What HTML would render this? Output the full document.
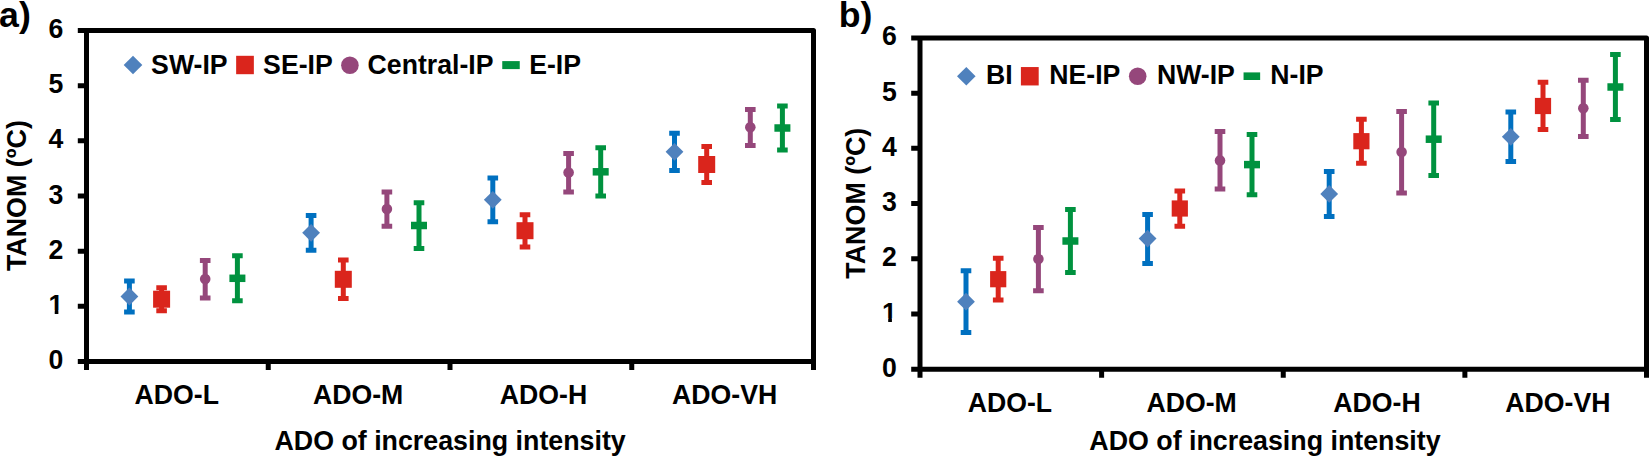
<!DOCTYPE html>
<html lang="en"><head><meta charset="utf-8"><title>TANOM vs ADO intensity</title>
<style>
html,body{margin:0;padding:0;background:#fff}
body{width:1649px;height:456px;overflow:hidden}
svg{display:block}
text{font-family:"Liberation Sans",Arial,Helvetica,sans-serif;font-weight:700;fill:#000}
</style></head><body>
<svg width="1649" height="456" viewBox="0 0 1649 456">
<defs>
<clipPath id="c1a"><rect x="40" y="290" width="30" height="20.4"/><rect x="54.7" y="310" width="3.7" height="6"/></clipPath>
<clipPath id="c1b"><rect x="873.5" y="298" width="30" height="20.3"/><rect x="888.2" y="318" width="3.7" height="6"/></clipPath>
</defs>
<rect width="1649" height="456" fill="#fff"/>
<g stroke="#000" stroke-width="5" fill="none">
<path d="M77.8 30.5H813.5V370.1" stroke-linejoin="round"/>
<path d="M86.5 30.5V370.1M77.8 361.5H813.5"/>
<path d="M77.8 85.67H86.5M77.8 140.83H86.5M77.8 196H86.5M77.8 251.17H86.5M77.8 306.33H86.5M268.25 361.5V370.1M450 361.5V370.1M631.75 361.5V370.1"/>
</g>
<text transform="translate(63.3 38) scale(1 1.035)" font-size="26.67" text-anchor="end">6</text>
<text transform="translate(63.3 93.17) scale(1 1.035)" font-size="26.67" text-anchor="end">5</text>
<text transform="translate(63.3 148.33) scale(1 1.035)" font-size="26.67" text-anchor="end">4</text>
<text transform="translate(63.3 203.5) scale(1 1.035)" font-size="26.67" text-anchor="end">3</text>
<text transform="translate(63.3 258.67) scale(1 1.035)" font-size="26.67" text-anchor="end">2</text>
<g clip-path="url(#c1a)"><text transform="translate(63.3 313.83) scale(1 1.035)" font-size="26.67" text-anchor="end">1</text></g>
<text transform="translate(63.3 369) scale(1 1.035)" font-size="26.67" text-anchor="end">0</text>
<text transform="translate(176.8 404.3) scale(1 1.035)" font-size="26.67" text-anchor="middle">ADO-L</text>
<text transform="translate(358.1 404.3) scale(1 1.035)" font-size="26.67" text-anchor="middle">ADO-M</text>
<text transform="translate(543.5 404.3) scale(1 1.035)" font-size="26.67" text-anchor="middle">ADO-H</text>
<text transform="translate(724.6 404.3) scale(1 1.035)" font-size="26.67" text-anchor="middle">ADO-VH</text>
<text transform="translate(450.1 450.1) scale(1.005 1.035)" font-size="26.67" text-anchor="middle">ADO of increasing intensity</text>
<text transform="translate(26.4 195.6) rotate(-90) scale(1.007 1.035)" font-size="26.67" text-anchor="middle">TANOM (ºC)</text>
<text transform="translate(-0.9 26.6) scale(1 1.0)" font-size="35.7" text-anchor="start">a)</text>
<path d="M123.7 65L133 55.7L142.3 65L133 74.3Z" fill="#4f81bd"/>
<text transform="translate(151.1 73.6) scale(1 1.035)" font-size="26.67" text-anchor="start">SW-IP</text>
<rect x="236.15" y="55.8" width="17.7" height="18.4" fill="#da251c"/>
<text transform="translate(263.1 73.6) scale(1 1.035)" font-size="26.67" text-anchor="start">SE-IP</text>
<circle cx="349.9" cy="65.2" r="8.8" fill="#95477b"/>
<text transform="translate(367.6 73.6) scale(1 1.035)" font-size="26.67" text-anchor="start">Central-IP</text>
<rect x="502.25" y="61.1" width="17.5" height="8" fill="#00923f"/>
<text transform="translate(529.2 73.6) scale(1 1.035)" font-size="26.67" text-anchor="start">E-IP</text>
<path d="M129.4 281.1V312.1M124.1 281.1H134.7M124.1 312.1H134.7" stroke="#0070c0" stroke-width="5" fill="none"/>
<path d="M120.5 296.5L129.4 287.6L138.3 296.5L129.4 305.4Z" fill="#4f81bd"/>
<path d="M311.1 215.5V250.3M305.8 215.5H316.4M305.8 250.3H316.4" stroke="#0070c0" stroke-width="5" fill="none"/>
<path d="M302.2 232.8L311.1 223.9L320 232.8L311.1 241.7Z" fill="#4f81bd"/>
<path d="M492.8 177.9V221.7M487.5 177.9H498.1M487.5 221.7H498.1" stroke="#0070c0" stroke-width="5" fill="none"/>
<path d="M483.9 199.8L492.8 190.9L501.7 199.8L492.8 208.7Z" fill="#4f81bd"/>
<path d="M674.5 133.2V170.5M669.2 133.2H679.8M669.2 170.5H679.8" stroke="#0070c0" stroke-width="5" fill="none"/>
<path d="M665.6 151.8L674.5 142.9L683.4 151.8L674.5 160.7Z" fill="#4f81bd"/>
<path d="M161.6 287.8V310.8M156.3 287.8H166.9M156.3 310.8H166.9" stroke="#da251c" stroke-width="5" fill="none"/>
<rect x="153.1" y="290.7" width="17" height="17" fill="#da251c"/>
<path d="M343.3 260V298.5M338 260H348.6M338 298.5H348.6" stroke="#da251c" stroke-width="5" fill="none"/>
<rect x="334.8" y="270.8" width="17" height="17" fill="#da251c"/>
<path d="M525 214.8V247M519.7 214.8H530.3M519.7 247H530.3" stroke="#da251c" stroke-width="5" fill="none"/>
<rect x="516.5" y="222.2" width="17" height="17" fill="#da251c"/>
<path d="M706.7 146.5V182.4M701.4 146.5H712M701.4 182.4H712" stroke="#da251c" stroke-width="5" fill="none"/>
<rect x="698.2" y="156" width="17" height="17" fill="#da251c"/>
<path d="M205.2 260.6V298M199.9 260.6H210.5M199.9 298H210.5" stroke="#95477b" stroke-width="5" fill="none"/>
<circle cx="205.2" cy="279" r="5.3" fill="#95477b"/>
<path d="M386.9 192.1V226.3M381.6 192.1H392.2M381.6 226.3H392.2" stroke="#95477b" stroke-width="5" fill="none"/>
<circle cx="386.9" cy="209" r="5.3" fill="#95477b"/>
<path d="M568.6 153.5V191.9M563.3 153.5H573.9M563.3 191.9H573.9" stroke="#95477b" stroke-width="5" fill="none"/>
<circle cx="568.6" cy="172.6" r="5.3" fill="#95477b"/>
<path d="M750.3 109.5V145.4M745 109.5H755.6M745 145.4H755.6" stroke="#95477b" stroke-width="5" fill="none"/>
<circle cx="750.3" cy="127.3" r="5.3" fill="#95477b"/>
<path d="M237.4 255.7V300.7M232.1 255.7H242.7M232.1 300.7H242.7" stroke="#00923f" stroke-width="5" fill="none"/>
<rect x="229.4" y="274.55" width="16" height="7.5" fill="#00923f"/>
<path d="M419 202.7V248.5M413.7 202.7H424.3M413.7 248.5H424.3" stroke="#00923f" stroke-width="5" fill="none"/>
<rect x="411" y="221.75" width="16" height="7.5" fill="#00923f"/>
<path d="M600.7 147.8V195.9M595.4 147.8H606M595.4 195.9H606" stroke="#00923f" stroke-width="5" fill="none"/>
<rect x="592.7" y="168.05" width="16" height="7.5" fill="#00923f"/>
<path d="M782.4 106V150.1M777.1 106H787.7M777.1 150.1H787.7" stroke="#00923f" stroke-width="5" fill="none"/>
<rect x="774.4" y="124.25" width="16" height="7.5" fill="#00923f"/>
<g stroke="#000" stroke-width="5" fill="none">
<path d="M911.2 37.9H1646.5V377.7" stroke-linejoin="round"/>
<path d="M920 37.9V377.7M911.2 369.3H1646.5"/>
<path d="M911.2 93.13H920M911.2 148.37H920M911.2 203.6H920M911.2 258.83H920M911.2 314.07H920M1101.62 369.3V377.7M1283.25 369.3V377.7M1464.88 369.3V377.7"/>
</g>
<text transform="translate(896.8 45.4) scale(1 1.035)" font-size="26.67" text-anchor="end">6</text>
<text transform="translate(896.8 100.63) scale(1 1.035)" font-size="26.67" text-anchor="end">5</text>
<text transform="translate(896.8 155.87) scale(1 1.035)" font-size="26.67" text-anchor="end">4</text>
<text transform="translate(896.8 211.1) scale(1 1.035)" font-size="26.67" text-anchor="end">3</text>
<text transform="translate(896.8 266.33) scale(1 1.035)" font-size="26.67" text-anchor="end">2</text>
<g clip-path="url(#c1b)"><text transform="translate(896.8 321.57) scale(1 1.035)" font-size="26.67" text-anchor="end">1</text></g>
<text transform="translate(896.8 376.8) scale(1 1.035)" font-size="26.67" text-anchor="end">0</text>
<text transform="translate(1009.9 411.9) scale(1 1.035)" font-size="26.67" text-anchor="middle">ADO-L</text>
<text transform="translate(1191.6 411.9) scale(1 1.035)" font-size="26.67" text-anchor="middle">ADO-M</text>
<text transform="translate(1377 411.9) scale(1 1.035)" font-size="26.67" text-anchor="middle">ADO-H</text>
<text transform="translate(1557.9 411.9) scale(1 1.035)" font-size="26.67" text-anchor="middle">ADO-VH</text>
<text transform="translate(1265 449.7) scale(1.005 1.035)" font-size="26.67" text-anchor="middle">ADO of increasing intensity</text>
<text transform="translate(864.9 203.2) rotate(-90) scale(1.007 1.035)" font-size="26.67" text-anchor="middle">TANOM (ºC)</text>
<text transform="translate(838.7 26.6) scale(1 1.0)" font-size="35.7" text-anchor="start">b)</text>
<path d="M957 76.2L966.3 66.9L975.6 76.2L966.3 85.5Z" fill="#4f81bd"/>
<text transform="translate(985.9 84.4) scale(1 1.035)" font-size="26.67" text-anchor="start">BI</text>
<rect x="1020.9" y="67.05" width="17.8" height="18.4" fill="#da251c"/>
<text transform="translate(1049.3 84.4) scale(1 1.035)" font-size="26.67" text-anchor="start">NE-IP</text>
<circle cx="1137.7" cy="76.3" r="8.8" fill="#95477b"/>
<text transform="translate(1156.9 84.4) scale(1 1.035)" font-size="26.67" text-anchor="start">NW-IP</text>
<rect x="1243.55" y="72.4" width="16.6" height="7.6" fill="#00923f"/>
<text transform="translate(1270.3 84.4) scale(1 1.035)" font-size="26.67" text-anchor="start">N-IP</text>
<path d="M966 270.8V332.6M960.7 270.8H971.3M960.7 332.6H971.3" stroke="#0070c0" stroke-width="5" fill="none"/>
<path d="M957.1 301.7L966 292.8L974.9 301.7L966 310.6Z" fill="#4f81bd"/>
<path d="M1147.6 214.6V263.5M1142.3 214.6H1152.9M1142.3 263.5H1152.9" stroke="#0070c0" stroke-width="5" fill="none"/>
<path d="M1138.7 238.6L1147.6 229.7L1156.5 238.6L1147.6 247.5Z" fill="#4f81bd"/>
<path d="M1329.2 171.4V216.4M1323.9 171.4H1334.5M1323.9 216.4H1334.5" stroke="#0070c0" stroke-width="5" fill="none"/>
<path d="M1320.3 193.9L1329.2 185L1338.1 193.9L1329.2 202.8Z" fill="#4f81bd"/>
<path d="M1510.8 112.1V161.5M1505.5 112.1H1516.1M1505.5 161.5H1516.1" stroke="#0070c0" stroke-width="5" fill="none"/>
<path d="M1501.9 136.8L1510.8 127.9L1519.7 136.8L1510.8 145.7Z" fill="#4f81bd"/>
<path d="M998.2 258.3V300.1M992.9 258.3H1003.5M992.9 300.1H1003.5" stroke="#da251c" stroke-width="5" fill="none"/>
<rect x="990.1" y="271.1" width="16.2" height="16.2" fill="#da251c"/>
<path d="M1179.8 190.9V226.3M1174.5 190.9H1185.1M1174.5 226.3H1185.1" stroke="#da251c" stroke-width="5" fill="none"/>
<rect x="1171.7" y="200.4" width="16.2" height="16.2" fill="#da251c"/>
<path d="M1361.4 119.3V163.3M1356.1 119.3H1366.7M1356.1 163.3H1366.7" stroke="#da251c" stroke-width="5" fill="none"/>
<rect x="1353.3" y="133.1" width="16.2" height="16.2" fill="#da251c"/>
<path d="M1543 82.3V129.6M1537.7 82.3H1548.3M1537.7 129.6H1548.3" stroke="#da251c" stroke-width="5" fill="none"/>
<rect x="1534.9" y="97.9" width="16.2" height="16.2" fill="#da251c"/>
<path d="M1038.4 227.6V290.8M1033.1 227.6H1043.7M1033.1 290.8H1043.7" stroke="#95477b" stroke-width="5" fill="none"/>
<circle cx="1038.4" cy="259" r="5.3" fill="#95477b"/>
<path d="M1220 131.6V188.9M1214.7 131.6H1225.3M1214.7 188.9H1225.3" stroke="#95477b" stroke-width="5" fill="none"/>
<circle cx="1220" cy="160.4" r="5.3" fill="#95477b"/>
<path d="M1401.6 111.4V193.1M1396.3 111.4H1406.9M1396.3 193.1H1406.9" stroke="#95477b" stroke-width="5" fill="none"/>
<circle cx="1401.6" cy="152" r="5.3" fill="#95477b"/>
<path d="M1583.3 80.2V136.4M1578 80.2H1588.6M1578 136.4H1588.6" stroke="#95477b" stroke-width="5" fill="none"/>
<circle cx="1583.3" cy="108.2" r="5.3" fill="#95477b"/>
<path d="M1070.4 209.5V272.4M1065.1 209.5H1075.7M1065.1 272.4H1075.7" stroke="#00923f" stroke-width="5" fill="none"/>
<rect x="1062.4" y="237.25" width="16" height="7.5" fill="#00923f"/>
<path d="M1252 134.4V194.7M1246.7 134.4H1257.3M1246.7 194.7H1257.3" stroke="#00923f" stroke-width="5" fill="none"/>
<rect x="1244" y="160.85" width="16" height="7.5" fill="#00923f"/>
<path d="M1433.7 103V175.5M1428.4 103H1439M1428.4 175.5H1439" stroke="#00923f" stroke-width="5" fill="none"/>
<rect x="1425.7" y="135.45" width="16" height="7.5" fill="#00923f"/>
<path d="M1615.4 54.4V119.4M1610.1 54.4H1620.7M1610.1 119.4H1620.7" stroke="#00923f" stroke-width="5" fill="none"/>
<rect x="1607.4" y="83.25" width="16" height="7.5" fill="#00923f"/>
</svg>
</body></html>
